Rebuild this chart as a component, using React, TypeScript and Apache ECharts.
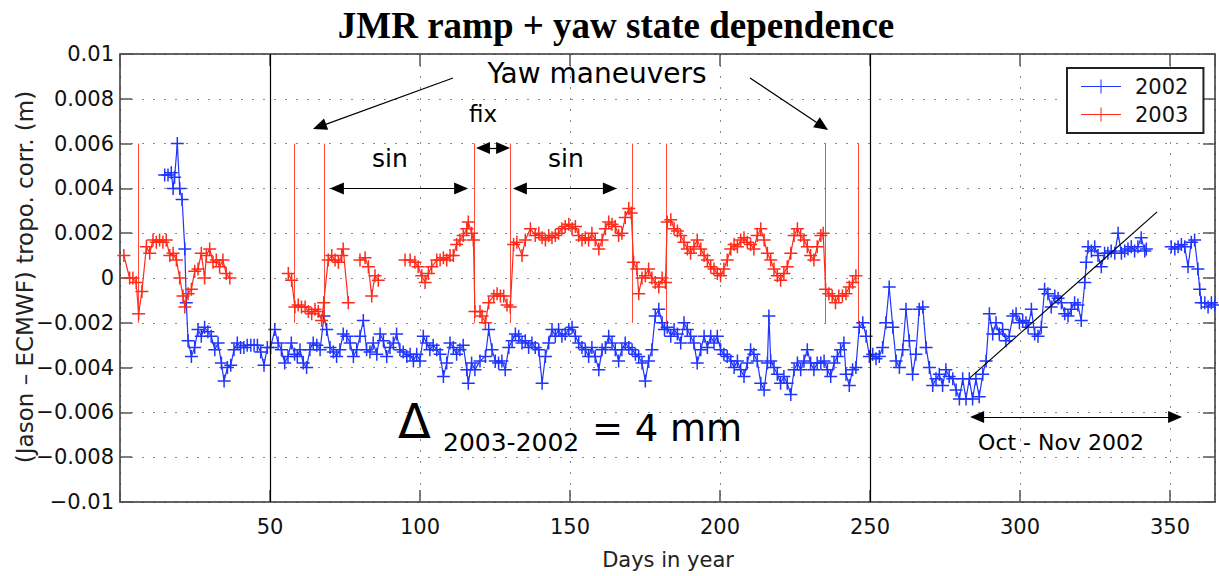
import React, { useEffect, useRef } from "react";
import * as echarts from "echarts";

// ---- 2002 (blue) : [day, value (m)] ----
const jmr2002SegA: [number, number][] = [
  [14.9, 0.0046], [16, 0.0046], [17.1, 0.0047], [17.7, 0.004], [18.2, 0.0045], [19.1, 0.006], [19.9, 0.004],
  [20.7, 0.0035], [21.6, 0.0013], [22.1, -0.0011], [22.7, -0.0028], [23.8, -0.0035], [24.9, -0.0031], [26, -0.0023],
  [27.1, -0.0026], [28.2, -0.0022], [29.3, -0.0024], [30.4, -0.0026], [31.6, -0.0032], [32.7, -0.0029], [33.8, -0.0038],
  [34.7, -0.0046], [35.8, -0.004], [36.9, -0.0039], [38, -0.0032], [39.1, -0.0029], [40.2, -0.0031], [41.3, -0.0031],
  [42.4, -0.003], [43.6, -0.003], [44.7, -0.003], [45.8, -0.003], [46.9, -0.0033], [48, -0.0039], [49.1, -0.0031],
  [50.2, -0.0031], [51.6, -0.0023], [52.7, -0.0029], [53.8, -0.0032], [54.9, -0.0038], [56, -0.0035], [57.1, -0.0029],
  [58.2, -0.0034], [59.1, -0.0035], [60, -0.0032], [61.1, -0.0038], [62.2, -0.004], [63.3, -0.0032], [64.4, -0.0029],
  [65.6, -0.003], [66.7, -0.0032], [68, -0.0017], [68.9, -0.0023], [70, -0.0031], [71.1, -0.0033], [72.2, -0.0035],
  [73.3, -0.0032], [74.4, -0.0025], [75.6, -0.0026], [76.7, -0.0029], [77.8, -0.0035], [78.9, -0.0032], [80, -0.0026],
  [81.1, -0.0019], [82.2, -0.0032], [83.3, -0.0033], [84.4, -0.0029], [85.6, -0.0034], [86.7, -0.0025], [87.8, -0.0028],
  [88.9, -0.0035], [90, -0.0031], [91.1, -0.0029], [92.2, -0.0025], [93.3, -0.0032], [94.4, -0.0033], [95.6, -0.0035],
  [96.7, -0.0034], [97.8, -0.0037], [98.9, -0.0034], [100, -0.0037], [101.1, -0.0026], [102.2, -0.0029], [103.3, -0.0032],
  [104.4, -0.003], [105.6, -0.0032], [106.7, -0.0034], [107.8, -0.0044], [108.9, -0.0038], [110, -0.0029], [111.1, -0.0031],
  [112.2, -0.0034], [113.3, -0.0032], [114.4, -0.003], [115.6, -0.0041], [116.1, -0.0047], [117.2, -0.0038], [118.3, -0.0041],
  [120, -0.0037], [121.8, -0.0035], [122.9, -0.0023], [124, -0.0032], [125.1, -0.0037], [126.2, -0.0038], [127.3, -0.0037],
  [128.4, -0.0041], [129.6, -0.0031], [130.7, -0.0028], [131.8, -0.0025], [132.9, -0.0026], [134, -0.0029], [135.1, -0.0028],
  [136.2, -0.0031], [137.3, -0.0029], [138.4, -0.0031], [139.6, -0.0032], [140.7, -0.0047], [141.8, -0.0035], [142.9, -0.0029],
  [144, -0.0023], [145.1, -0.0026], [146.2, -0.0023], [147.3, -0.0026], [148.4, -0.0025], [149.6, -0.0023], [150.7, -0.0022],
  [151.8, -0.0026], [152.9, -0.0029], [154, -0.0031], [155.1, -0.0032], [156.2, -0.0035], [157.3, -0.0031], [158.4, -0.0035],
  [159.6, -0.0041], [160.7, -0.0032], [161.8, -0.0031], [162.9, -0.0026], [164, -0.0029], [165.1, -0.0032], [166.2, -0.0037],
  [167.3, -0.0032], [168.4, -0.0029], [169.6, -0.0031], [170.7, -0.0032], [171.8, -0.0034], [172.9, -0.0035], [174, -0.0038],
  [175.1, -0.0046], [176.2, -0.0037], [177.3, -0.0032], [178.4, -0.0017], [179.6, -0.0014], [180.7, -0.002], [181.5, -0.0023],
  [182.4, -0.0022], [183.6, -0.0026], [184.7, -0.0023], [185.8, -0.0025], [186.9, -0.0029], [188, -0.002], [189.1, -0.0023],
  [190.2, -0.0026], [191.3, -0.0029], [192.4, -0.0038], [193.6, -0.0032], [194.7, -0.0026], [195.8, -0.0031], [196.9, -0.0026],
  [198, -0.0029], [199.1, -0.0026], [200.2, -0.0032], [201.3, -0.0034], [202.4, -0.0035], [203.6, -0.0037], [204.7, -0.004],
  [205.8, -0.0037], [206.9, -0.0041], [208, -0.0044], [209.1, -0.0038], [210.2, -0.0032], [211.3, -0.0034], [212.4, -0.0037],
  [213.6, -0.0047], [214.7, -0.005], [215.8, -0.0038], [216.3, -0.0017], [216.9, -0.0037], [218, -0.004], [219.1, -0.0043],
  [220.2, -0.0047], [221.3, -0.0044], [222.4, -0.0047], [223.6, -0.0052], [224.7, -0.0041], [225.8, -0.0038], [226.9, -0.0041],
  [228, -0.0037], [229.1, -0.0032], [230.2, -0.0038], [231.3, -0.0041], [232.4, -0.0038], [233.6, -0.0038], [234.7, -0.0037],
  [235.8, -0.0041], [236.9, -0.0044], [238, -0.0038], [239.1, -0.0035], [240.2, -0.0032], [241.3, -0.0029], [242, -0.0043],
  [243.1, -0.0048], [244.2, -0.0041], [245.3, -0.004], [246.4, -0.0022], [247.6, -0.002], [248.7, -0.0026], [249.8, -0.0035],
  [250.9, -0.0034], [252, -0.0036], [253.1, -0.0035], [254.2, -0.0031], [255.3, -0.002], [256.4, -0.0004], [257.6, -0.0022],
  [258.7, -0.0037], [259.8, -0.004], [260.9, -0.0032], [262, -0.0014], [263.1, -0.0028], [264.2, -0.0043], [265.3, -0.0034],
  [266.4, -0.0014], [267.6, -0.0013], [268.7, -0.0031], [269.8, -0.004], [270.9, -0.0048], [272, -0.0045], [273.1, -0.0043],
  [274.2, -0.0048], [275.3, -0.0041], [276.4, -0.0044], [277.6, -0.0045], [278.7, -0.005], [279.8, -0.0054], [280.9, -0.0045],
  [282, -0.0054], [283.1, -0.0045], [284.2, -0.0054], [285.3, -0.0045], [286.4, -0.0053], [287.6, -0.0043], [288.7, -0.0037],
  [289.8, -0.0016], [290.9, -0.0025], [292, -0.002], [293.1, -0.0025], [294.2, -0.0023], [295.3, -0.0028], [296.4, -0.0026],
  [297.6, -0.0017], [298.7, -0.0016], [299.8, -0.002], [300.9, -0.0019], [302, -0.002], [302.7, -0.0022], [303.8, -0.0014],
  [304.9, -0.0025], [306, -0.0026], [307.1, -0.0022], [308.2, -0.0005], [309.3, -0.0007], [310.4, -0.0013], [311.6, -0.0008],
  [312.7, -0.0009], [313.8, -0.0011], [314.9, -0.0016], [316, -0.0017], [317.1, -0.0014], [318.2, -0.0011], [319.3, -0.0012],
  [320.4, -0.0019], [321.6, -0.0002], [322.1, 0.0007], [322.7, 0.0014], [323.8, 0.0012], [324.9, 0.0014], [326, 0.001],
  [327.1, 0.0005], [328.2, 0.0011], [329.3, 0.0011], [330.4, 0.0012], [331.6, 0.0011], [332.7, 0.002], [333.8, 0.0011],
  [334.9, 0.0012], [336, 0.0013], [337.1, 0.0014], [338.2, 0.0012], [339.3, 0.0014], [340.4, 0.0018], [341.6, 0.0012],
  [342.1, 0.0013],
];
const jmr2002SegB: [number, number][] = [
  [350.4, 0.0014], [351.6, 0.0013], [352.7, 0.0014], [353.8, 0.0015], [354.9, 0.0014], [356, 0.0005], [357.1, 0.0016],
  [358.2, 0.0017], [359.3, 0.0004], [359.9, -0.0005], [360.4, -0.0011], [361.6, -0.0011], [362.7, -0.0013], [363.8, -0.0011],
  [364.9, -0.0012],
];

// ---- 2003 (red) : [day, value (m)] ----
const jmr2003SegA: [number, number][] = [
  [1.3, 0.001], [3.2, 0.0], [4.3, 0.0], [5.4, -0.0002], [6.2, -0.0016], [7.3, -0.0006], [8.8, 0.0014], [9.9, 0.0011],
  [11, 0.0017], [12.1, 0.0016], [13.2, 0.0017], [14.3, 0.0016], [15.4, 0.0017], [16.6, 0.001], [17.7, 0.0011],
  [18.8, 0.0008], [19.9, 0.0], [21, -0.0008], [21.6, -0.0013], [22.7, -0.0007], [23.8, -0.0005], [24.9, 0.0003],
  [26, 0.0004], [27.1, 0.0011], [28.2, 0.0], [28.8, 0.001], [29.9, 0.0013], [31, 0.0007], [32.1, 0.0008], [33.2, 0.0005],
  [34.3, 0.0008], [35.4, 0.0002], [36.6, 0.0],
];
const jmr2003SegB: [number, number][] = [
  [56.1, 0.0002], [57.2, -0.0001], [58.3, -0.0013], [59.4, -0.0012], [60.5, -0.0013], [61.7, -0.0013], [62.8, -0.0015],
  [63.9, -0.0016], [65, -0.0014], [66.1, -0.0015], [67.2, -0.0019], [67.9, -0.0011], [69.4, 0.0008], [70.6, 0.001],
  [71.7, 0.0008], [72.8, 0.0007], [73.9, 0.001], [74.4, 0.0013], [76.1, -0.0011],
];
const jmr2003SegC: [number, number][] = [
  [80, 0.0008], [81.7, 0.0009], [82.8, 0.0005], [83.9, -0.0008], [85, 0.0001], [86.1, -0.0001],
];
const jmr2003SegD: [number, number][] = [
  [95, 0.0008], [96.7, 0.0008], [98.3, 0.0007], [99.4, 0.0005], [100.6, 0.0001], [101.7, -0.0002], [102.8, 0.0002],
  [103.9, 0.0005], [105.6, 0.0008], [106.7, 0.0008], [107.8, 0.0009], [108.9, 0.0008], [110, 0.001], [111.1, 0.001],
  [112.2, 0.0015], [113.3, 0.0017], [114.4, 0.0019], [115.6, 0.0022], [116.1, 0.0025], [117.2, 0.002], [117.8, 0.0017],
  [118.3, -0.0015], [120, -0.0015], [120.7, -0.0017], [121.8, -0.002], [122.9, -0.0011], [124.6, -0.0008], [125.7, -0.0007],
  [126.8, -0.0008], [127.9, -0.0008], [129, -0.0012], [130.1, -0.0013], [131.2, 0.0015], [132.3, 0.0016], [134, 0.001],
  [135.1, 0.0017], [136.8, 0.0022], [138.4, 0.0019], [139.6, 0.002], [140.7, 0.0018], [141.8, 0.0017], [142.9, 0.0019],
  [144, 0.0018], [145.1, 0.0019], [146.2, 0.002], [147.3, 0.0022], [148.4, 0.0023], [149.6, 0.0024], [150.7, 0.0022],
  [151.8, 0.0023], [152.9, 0.0019], [154, 0.0017], [155.1, 0.0018], [156.2, 0.0017], [157.3, 0.002], [158.4, 0.0017],
  [159.6, 0.0013], [160.7, 0.0017], [161.8, 0.0022], [162.9, 0.0025], [164, 0.0024], [165.1, 0.0023], [166.2, 0.0019],
  [167.3, 0.002], [168.4, 0.0027], [169.6, 0.0031], [170.4, 0.0029], [171.2, 0.0007], [172.3, 0.0004], [172.9, -0.0007],
  [174, 0.0], [175.1, 0.0001], [176.2, 0.0004], [177.3, 0.0], [178.4, -0.0002], [179.6, -0.0004], [180.7, 0.0],
  [181.8, -0.0002], [182.4, 0.0025], [183.6, 0.0026], [184.7, 0.0022], [185.8, 0.0021], [186.9, 0.0019], [188, 0.0016],
  [189.1, 0.0013], [190.2, 0.0011], [191.3, 0.0014], [192.4, 0.0017], [193.6, 0.0013], [194.7, 0.001], [195.8, 0.0008],
  [196.9, 0.0005], [198, 0.0004], [199.1, 0.0002], [200.2, 0.0001], [201.3, 0.0004], [202.4, 0.0008], [203.6, 0.0013],
  [204.7, 0.0015], [205.8, 0.0014], [206.9, 0.0017], [208, 0.0018], [209.1, 0.0016], [210.2, 0.0015], [211.3, 0.0013],
  [212.4, 0.0019], [213.6, 0.0022], [214.7, 0.0017], [215.8, 0.0011], [216.9, 0.0008], [218, 0.0004], [219.1, 0.0001],
  [220.2, -0.0001], [221.3, 0.0002], [222.4, 0.0005], [223.6, 0.0011], [224.7, 0.0019], [225.8, 0.0022], [226.9, 0.0019],
  [228, 0.0017], [229.1, 0.0014], [230.2, 0.001], [231.3, 0.0008], [232.4, 0.0014], [233.6, 0.0019], [234.4, 0.002],
  [235.2, -0.0005], [236.3, -0.0007], [237.4, -0.0008], [238.5, -0.0011], [239.6, -0.0008], [240.8, -0.0008], [242, -0.0007],
  [243.1, -0.0004], [244.2, -0.0002], [245.3, 0.0001],
];

// ---- annotations (data coordinates) ----
const yawManeuverDays = [6.2, 58, 68, 118.2, 130.1, 170.9, 182.1, 235, 246.1];
const maneuverRange: [number, number] = [-0.002, 0.006];
const dividerDays = [50, 250];
const trend2002: [number, number][] = [[283.3, -0.00446], [345.7, 0.00295]];
const yawArrowLeft: [number, number][] = [[111, 0.00893], [66.5, 0.00676]];
const yawArrowRight: [number, number][] = [[210, 0.00893], [234.1, 0.00678]];
const fixArrow: [number, number][] = [[121, 0.0058], [127.7, 0.0058]];
const sinArrow1: [number, number][] = [[72.3, 0.004], [113.7, 0.004]];
const sinArrow2: [number, number][] = [[133.3, 0.004], [163.3, 0.004]];
const octNovArrow: [number, number][] = [[285.7, -0.0062], [351.7, -0.0062]];

const BLUE = "#1f35ff";
const RED = "#ff2a1a";
const SANS = "DejaVu Sans";
const PLUS = "path://M0,5.75H13V7.25H0ZM5.75,0H7.25V13H5.75Z";
const LEGEND_ICON = "path://M0,6.5H40V7.5H0ZM19.5,0H20.5V14H19.5Z";

function joinSegments(segs: [number, number][][]) {
  const out: any[] = [];
  segs.forEach((s, i) => {
    if (i > 0) out.push([(segs[i - 1][segs[i - 1].length - 1][0] + s[0][0]) / 2, null]);
    s.forEach((p) => out.push(p));
  });
  return out;
}

function arrow(pts: [number, number][], both: boolean) {
  return [
    { coord: pts[0], symbol: both ? "triangle" : "none", symbolSize: [12, 14] },
    { coord: pts[1], symbol: "triangle", symbolSize: [12, 14] },
  ];
}

function yLabel(v: number) {
  const r = Math.round(v * 1000) / 1000;
  if (r === 0) return "0";
  return (r < 0 ? "\u2212" : "") + String(Math.abs(r));
}

export default function App() {
  const ref = useRef<HTMLDivElement>(null);
  useEffect(() => {
    if (!ref.current) return;
    const chart = echarts.init(ref.current, null, { renderer: "svg" });
    const axisLineStyle = { color: "#333", width: 1.5 };
    const tickStyle = { color: "#555", width: 1.5 };
    const option: any = {
      animation: false,
      backgroundColor: "#fff",
      grid: { left: 120, right: 4, top: 54, bottom: 74, containLabel: false, outerBoundsMode: "none" },
      legend: {
        left: 1067,
        top: 68,
        orient: "vertical",
        padding: [8, 15, 8, 14],
        itemGap: 7,
        itemWidth: 40,
        itemHeight: 14,
        borderColor: "#222",
        borderWidth: 2,
        backgroundColor: "#fff",
        textStyle: { fontSize: 21, fontFamily: SANS, color: "#111", padding: [0, 0, 0, 9] },
        data: [
          { name: "2002", icon: LEGEND_ICON },
          { name: "2003", icon: LEGEND_ICON },
        ],
      },
      xAxis: [
        {
          type: "value", min: 0, max: 365, interval: 50, position: "bottom",
          axisLine: { show: true, onZero: false, lineStyle: axisLineStyle },
          axisTick: { show: true, inside: true, length: 12, lineStyle: tickStyle },
          axisLabel: {
            margin: 14, fontSize: 21, fontFamily: SANS, color: "#111", showMaxLabel: false,
            formatter: (v: number) => (v === 0 || v % 50 !== 0 ? "" : String(v)),
          },
          splitLine: { show: true, lineStyle: { color: "#8a8a8a", type: [2, 9], width: 1 } },
        },
        {
          type: "value", min: 0, max: 365, interval: 50, position: "top",
          axisLine: { show: true, onZero: false, lineStyle: axisLineStyle },
          axisTick: { show: true, inside: true, length: 12, lineStyle: tickStyle },
          axisLabel: { show: false },
          splitLine: { show: false },
        },
      ],
      yAxis: [
        {
          type: "value", min: -0.01, max: 0.01, interval: 0.002, position: "left",
          axisLine: { show: true, onZero: false, lineStyle: axisLineStyle },
          axisTick: { show: true, inside: true, length: 12, lineStyle: tickStyle },
          axisLabel: { margin: 6, fontSize: 21, fontFamily: SANS, color: "#111", formatter: yLabel },
          splitLine: { show: true, lineStyle: { color: "#8a8a8a", type: [2, 9], width: 1 } },
        },
        {
          type: "value", min: -0.01, max: 0.01, interval: 0.002, position: "right",
          axisLine: { show: true, onZero: false, lineStyle: axisLineStyle },
          axisTick: { show: true, inside: true, length: 12, lineStyle: tickStyle },
          axisLabel: { show: false },
          splitLine: { show: false },
        },
      ],
      series: [
        {
          name: "2002", type: "line", xAxisIndex: 0, yAxisIndex: 0,
          data: joinSegments([jmr2002SegA, jmr2002SegB]),
          connectNulls: false,
          symbol: PLUS, symbolSize: 13, showAllSymbol: true,
          lineStyle: { color: BLUE, width: 1.2 },
          itemStyle: { color: BLUE, borderWidth: 0 },
          emphasis: { disabled: true },
          z: 3,
        },
        {
          name: "2003", type: "line", xAxisIndex: 0, yAxisIndex: 0,
          data: joinSegments([jmr2003SegA, jmr2003SegB, jmr2003SegC, jmr2003SegD]),
          connectNulls: false,
          symbol: PLUS, symbolSize: 13, showAllSymbol: true,
          lineStyle: { color: RED, width: 1.2 },
          itemStyle: { color: RED, borderWidth: 0 },
          emphasis: { disabled: true },
          z: 4,
          markLine: {
            silent: true, symbol: ["none", "none"], label: { show: false },
            lineStyle: { color: RED, type: "solid", width: 1, opacity: 0.85 },
            data: yawManeuverDays.map((d) => [{ coord: [d, maneuverRange[0]] }, { coord: [d, maneuverRange[1]] }]),
          },
        },
        {
          name: "annotations", type: "line", xAxisIndex: 0, yAxisIndex: 0, data: [],
          z: 5,
          markLine: {
            silent: true, symbol: ["none", "none"], label: { show: false },
            lineStyle: { color: "#000", type: "solid", width: 1.2 },
            data: [
              ...dividerDays.map((d) => [{ coord: [d, -0.01] }, { coord: [d, 0.01] }]),
              [{ coord: trend2002[0] }, { coord: trend2002[1] }],
              arrow(yawArrowLeft, false),
              arrow(yawArrowRight, false),
              arrow(fixArrow, true),
              arrow(sinArrow1, true),
              arrow(sinArrow2, true),
              arrow(octNovArrow, true),
            ],
          },
        },
      ],
      graphic: [
        {
          type: "text", x: 616, y: 25, z: 100,
          style: { text: "JMR ramp + yaw state dependence", fontFamily: "Liberation Serif", fontWeight: "bold", fontSize: 37, fill: "#000", textAlign: "center", textVerticalAlign: "middle" },
        },
        {
          type: "text", x: 25, y: 277, rotation: Math.PI / 2, z: 100,
          style: { text: "(Jason \u2013 ECMWF) tropo. corr. (m)", fontFamily: SANS, fontSize: 23, fill: "#222", textAlign: "center", textVerticalAlign: "middle" },
        },
        {
          type: "text", x: 668, y: 560, z: 100,
          style: { text: "Days in year", fontFamily: SANS, fontSize: 21, fill: "#222", textAlign: "center", textVerticalAlign: "middle" },
        },
        {
          type: "text", x: 597, y: 73, z: 100,
          style: { text: "Yaw maneuvers", fontFamily: SANS, fontSize: 28, fill: "#000", textAlign: "center", textVerticalAlign: "middle" },
        },
        {
          type: "text", x: 483, y: 114, z: 100,
          style: { text: "fix", fontFamily: SANS, fontSize: 23, fill: "#000", textAlign: "center", textVerticalAlign: "middle" },
        },
        {
          type: "text", x: 390, y: 158, z: 100,
          style: { text: "sin", fontFamily: SANS, fontSize: 25, fill: "#000", textAlign: "center", textVerticalAlign: "middle" },
        },
        {
          type: "text", x: 566, y: 158, z: 100,
          style: { text: "sin", fontFamily: SANS, fontSize: 25, fill: "#000", textAlign: "center", textVerticalAlign: "middle" },
        },
        {
          type: "text", x: 398, y: 421, z: 100,
          style: { text: "\u0394", fontFamily: SANS, fontSize: 48, fill: "#000", textAlign: "left", textVerticalAlign: "middle" },
        },
        {
          type: "text", x: 443, y: 442, z: 100,
          style: { text: "2003-2002", fontFamily: SANS, fontSize: 25, fill: "#000", textAlign: "left", textVerticalAlign: "middle" },
        },
        {
          type: "text", x: 592, y: 428, z: 100,
          style: { text: "= 4 mm", fontFamily: SANS, fontSize: 37, fill: "#000", textAlign: "left", textVerticalAlign: "middle" },
        },
        {
          type: "text", x: 1061, y: 442, z: 100,
          style: { text: "Oct - Nov 2002", fontFamily: SANS, fontSize: 22, fill: "#000", textAlign: "center", textVerticalAlign: "middle" },
        },
      ],
    };
    chart.setOption(option);
    return () => chart.dispose();
  }, []);
  return (
    <div
      ref={ref}
      style={{ position: "fixed", left: 0, top: 0, width: 1219, height: 576, background: "#fff" }}
    />
  );
}
